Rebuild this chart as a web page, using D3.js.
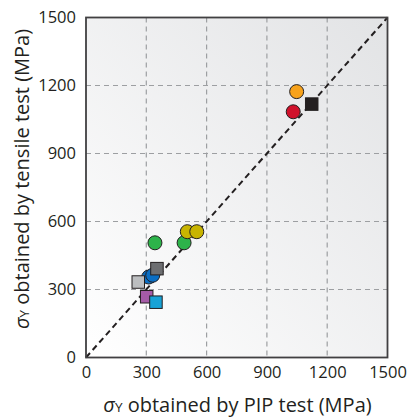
<!DOCTYPE html>
<html>
<head>
<meta charset="utf-8">
<script src="https://cdn.jsdelivr.net/npm/d3@7"></script>
<style>
  body { margin: 0; background: #fff; }
  text { font-family: "Open Sans", "Noto Sans", sans-serif; fill: #231f20; }
</style>
</head>
<body>
<div id="graphicContainer"></div>
<script>
// PIP test vs tensile test yield stress (MPa)
var ticks = [0, 300, 600, 900, 1200, 1500]

var pipX = [1048, 1031, 1123, 343, 488, 504, 551, 312, 332, 260, 353, 302, 348]
var tensileY = [1173, 1084, 1118, 506, 506, 555, 555, 355, 363, 333, 392, 268, 244]
var shapes = ["circle", "circle", "square", "circle", "circle", "circle", "circle", "circle", "circle", "square", "square", "square", "square"]
var colours = ["#f7a21b", "#d0112b", "#231f20", "#2db34a", "#2db34a", "#c8b400", "#c8b400", "#0b6ec3", "#0b6ec3", "#bcbec0", "#6d6e71", "#a55ba7", "#17a2d6"]

var data = pipX.map(function (d, i) {
	return { x: d, y: tensileY[i], shape: shapes[i], colour: colours[i] }
})

var width = 408, height = 418
var margin = {top: 17.5, right: 20.5, bottom: 60.5, left: 86}
var w = width - margin.left - margin.right
var h = height - margin.top - margin.bottom

var svg = d3.select("#graphicContainer").append("svg")
	.attr("width", width)
	.attr("height", height)

var defs = svg.append("defs")
var grad = defs.append("linearGradient")
	.attr("id", "bg")
	.attr("x1", "0%").attr("y1", "100%")
	.attr("x2", "100%").attr("y2", "0%")
grad.append("stop").attr("offset", "0%").attr("stop-color", "#ffffff")
grad.append("stop").attr("offset", "100%").attr("stop-color", "#e2e3e5")

var features = svg.append("g").attr("transform", "translate(" + margin.left + "," + margin.top + ")")

var x = d3.scaleLinear().domain([0, 1500]).range([0, w])
var y = d3.scaleLinear().domain([0, 1500]).range([h, 0])

features.append("rect")
	.attr("width", w)
	.attr("height", h)
	.attr("fill", "url(#bg)")

// grid
features.selectAll(".vgrid")
	.data(ticks.slice(1, -1))
	.enter()
	.append("line")
	.attr("x1", d => x(d)).attr("x2", d => x(d))
	.attr("y1", 0).attr("y2", h)
	.attr("stroke", "#9d9fa2")
	.attr("stroke-width", 1.2)
	.attr("stroke-dasharray", "5,4")

features.selectAll(".hgrid")
	.data(ticks.slice(1, -1))
	.enter()
	.append("line")
	.attr("y1", d => y(d)).attr("y2", d => y(d))
	.attr("x1", 0).attr("x2", w)
	.attr("stroke", "#9d9fa2")
	.attr("stroke-width", 1.2)
	.attr("stroke-dasharray", "5,4")

// 1:1 line
features.append("line")
	.attr("x1", x(0)).attr("y1", y(0))
	.attr("x2", x(1500)).attr("y2", y(1500))
	.attr("stroke", "#231f20")
	.attr("stroke-width", 2)
	.attr("stroke-dasharray", "6,4")

// points
var sq = 12.5
data.forEach(function (d) {
	if (d.shape == "circle") {
		features.append("circle")
			.attr("cx", x(d.x))
			.attr("cy", y(d.y))
			.attr("r", 7)
			.attr("fill", d.colour)
			.attr("stroke", "#231f20")
			.attr("stroke-width", 1)
	} else {
		features.append("rect")
			.attr("x", x(d.x) - sq / 2)
			.attr("y", y(d.y) - sq / 2)
			.attr("width", sq)
			.attr("height", sq)
			.attr("fill", d.colour)
			.attr("stroke", "#231f20")
			.attr("stroke-width", 1)
	}
})

// frame
features.append("rect")
	.attr("width", w)
	.attr("height", h)
	.attr("fill", "none")
	.attr("stroke", "#414042")
	.attr("stroke-width", 1.8)

// axes
var xAxis = d3.axisBottom(x).tickValues(ticks).tickFormat(d3.format("d")).tickSize(0).tickPadding(9)
var yAxis = d3.axisLeft(y).tickValues(ticks).tickFormat(d3.format("d")).tickSize(0).tickPadding(10)

var gx = features.append("g")
	.attr("class", "x")
	.attr("transform", "translate(0," + h + ")")
	.call(xAxis)
gx.select(".domain").remove()
gx.selectAll("text").attr("font-size", 16.5).attr("fill", "#231f20")

var gy = features.append("g")
	.attr("class", "y")
	.call(yAxis)
gy.select(".domain").remove()
gy.selectAll("text").attr("font-size", 16.5).attr("fill", "#231f20")

// titles
function title(sel, rest) {
	sel.append("tspan").attr("font-style", "italic").text("σ")
	sel.append("tspan").attr("font-size", 13.5).text("Y")
	sel.append("tspan").text(rest)
}

svg.append("text")
	.attr("x", 237.5)
	.attr("y", 412)
	.attr("text-anchor", "middle")
	.attr("font-size", 20)
	.call(title, " obtained by PIP test (MPa)")

svg.append("text")
	.attr("transform", "translate(29,179)rotate(-90)")
	.attr("text-anchor", "middle")
	.attr("font-size", 20)
	.call(title, " obtained by tensile test (MPa)")
</script>
</body>
</html>
